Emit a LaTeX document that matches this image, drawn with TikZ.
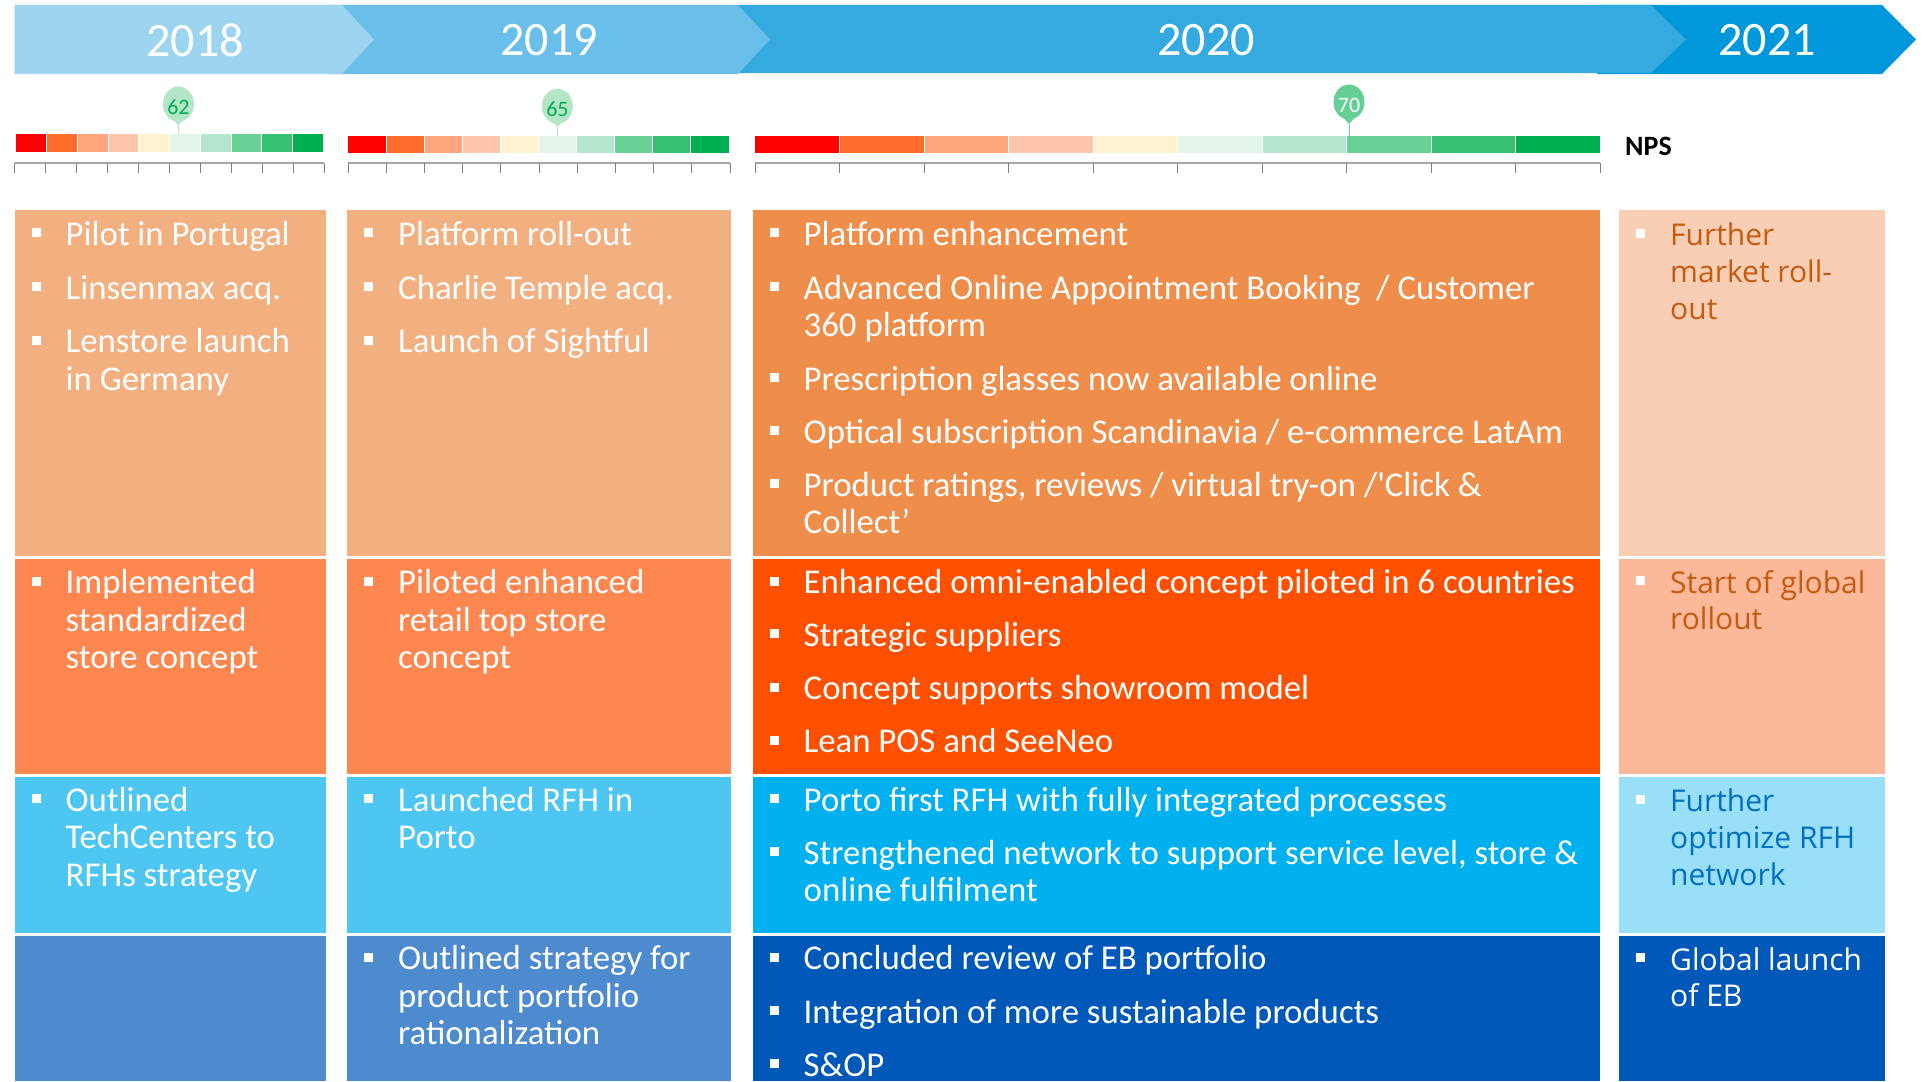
\documentclass[tikz,border=0pt]{standalone}
\usepackage{fontspec}
\setmainfont{Carlito}
\newfontfamily\segoe{Open Sans}
\usetikzlibrary{calc}

\definecolor{hA}{HTML}{9DD5F0}
\definecolor{hB}{HTML}{69BFE9}
\definecolor{hC}{HTML}{35AAE1}
\definecolor{hD}{HTML}{0098DA}
\definecolor{rOa}{HTML}{F2AF80}
\definecolor{rOc}{HTML}{EF8D4B}
\definecolor{rOd}{HTML}{F8CFB4}
\definecolor{rTa}{HTML}{FE874F}
\definecolor{rTc}{HTML}{FF5000}
\definecolor{rTd}{HTML}{FBB999}
\definecolor{rHa}{HTML}{4DC6F2}
\definecolor{rHc}{HTML}{00B0EF}
\definecolor{rHd}{HTML}{9ADFF8}
\definecolor{rFa}{HTML}{4D8ACE}
\definecolor{rFc}{HTML}{0058B8}
\definecolor{txo}{HTML}{C55A11}
\definecolor{txb}{HTML}{0070C0}
\definecolor{sA}{HTML}{FF0000}
\definecolor{sB}{HTML}{FF6D2C}
\definecolor{sC}{HTML}{FFA67F}
\definecolor{sD}{HTML}{FFC4AC}
\definecolor{sE}{HTML}{FFF2D0}
\definecolor{sF}{HTML}{E3F4E9}
\definecolor{sG}{HTML}{B3E6CA}
\definecolor{sH}{HTML}{67D196}
\definecolor{sI}{HTML}{36BF72}
\definecolor{sJ}{HTML}{00B050}
\definecolor{gA}{HTML}{B4E5C7}
\definecolor{gB}{HTML}{66CF95}
\definecolor{gT}{HTML}{00B050}
\definecolor{scal}{HTML}{A6A6A6}

\newcommand\npsbar[3]{%
  \foreach \col [count=\i from 0] in {sA,sB,sC,sD,sE,sF,sG,sH,sI,sJ} {
    \pgfmathsetmacro\xa{#1+\i*(#2-#1)/10}
    \pgfmathsetmacro\xb{#1+(\i+1)*(#2-#1)/10}
    \fill[\col] (\xa,#3) rectangle (\xb,#3+17.4);
  }
  \foreach \i in {1,...,9} {
    \pgfmathsetmacro\xb{#1+\i*(#2-#1)/10}
    \draw[white,line width=1] (\xb,#3) -- (\xb,#3+17.4);
  }
}
\newcommand\npsscale[3]{%
  \draw[scal,line width=2.2] (#1,#3) -- (#2,#3);
  \foreach \i in {0,...,10} {
    \pgfmathsetmacro\xt{#1+\i*(#2-#1)/10}
    \draw[gray,line width=1] (\xt,#3) -- (\xt,#3+10);
  }
}
% name, cx, cy, tip, bar top, fill, text colour, label
\newcommand\npsmark[8]{%
  \fill[#6] (#2,#3) ellipse [x radius=15.5, y radius=17.5];
  \fill[#6] ({#2-10},{#3+11}) -- ({#2+10},{#3+11}) -- (#2,#4) -- cycle;
  \draw[#6,line width=1] (#2,#4) -- (#2,#5);
  \node[mk,text=#7] (#1) at (#2,#3+3) {#8};
}
\newcommand\itm[5]{%
  \node[item,#4] (#1) at (#2,#3) {\parbox[t]{800pt}{\raggedright #5}};
  \fill[bul] ($(#1.base west)+(-34,-17)$) rectangle ++(9,9);
}

\begin{document}
\begin{tikzpicture}[x=1pt,y=-1pt,
  year/.style={text=white,inner sep=0pt,font=\fontsize{48}{52}\selectfont},
  mk/.style={inner sep=0pt,font=\fontsize{22}{24}\selectfont},
  item/.style={anchor=base west,inner sep=0pt,text=white,font=\fontsize{34.8}{37.5}\selectfont},
  sitem/.style={font=\segoe\fontsize{30}{36.8}\selectfont},
  bul/.style={white}]
\useasboundingbox (0,0) rectangle (1926,1081);
\fill[white] (0,0) rectangle (1926,1081);

% header arrows
\fill[hD] (1597,5) -- (1882,5) -- (1916,39.5) -- (1882,74) -- (1597,74) -- cycle;
\fill[hC] (735,5) -- (1651,5) -- (1686,39.5) -- (1651,73) -- (735,73) -- cycle;
\fill[hB] (329,5) -- (738,5) -- (770,39.5) -- (738,74) -- (329,74) -- cycle;
\fill[hA] (14.5,5) -- (342,5) -- (374,39.5) -- (342,74) -- (14.5,74) -- cycle;
\node[year] (y18) at (195,40.5) {2018};
\node[year] (y19) at (549,40.5) {2019};
\node[year] (y20) at (1206,40.5) {2020};
\node[year] (y21) at (1767,40.5) {2021};

% NPS bars
\npsbar{16}{323.3}{134.3}
\npsbar{348}{728.6}{136}
\npsbar{755}{1600}{136}
\npsscale{14.5}{324}{162.7}
\npsscale{348}{730}{162.7}
\npsscale{755}{1600}{162.7}
\npsmark{m62}{178.4}{104}{125}{134.3}{gA}{gT}{62}
\npsmark{m65}{557.4}{106.3}{126.7}{136}{gA}{gT}{65}
\npsmark{m70}{1349}{102}{124}{136}{gB}{white}{70}
\node[anchor=west,inner sep=0pt,font=\bfseries\fontsize{28}{30}\selectfont] (nps) at (1625,146.7) {NPS};

% boxes
\fill[rOa] (14.5,210) rectangle (326,555.5);
\fill[rOa] (347,210) rectangle (730.5,555.5);
\fill[rOc] (752.5,210) rectangle (1600,555.5);
\fill[rOd] (1619,210) rectangle (1885,555.5);
\fill[rTa] (14.5,559) rectangle (326,774);
\fill[rTa] (347,559) rectangle (730.5,774);
\fill[rTc] (752.5,559) rectangle (1600,774);
\fill[rTd] (1619,559) rectangle (1885,774);
\fill[rHa] (14.5,777.4) rectangle (326,932.7);
\fill[rHa] (347,777.4) rectangle (730.5,932.7);
\fill[rHc] (752.5,777.4) rectangle (1600,932.7);
\fill[rHd] (1619,777.4) rectangle (1885,932.7);
\fill[rFa] (14.5,936) rectangle (326,1081);
\fill[rFa] (347,936) rectangle (730.5,1081);
\fill[rFc] (752.5,936) rectangle (1600,1081);
\fill[rFc] (1619,936) rectangle (1885,1081);

% row 1
\itm{a1}{65.5}{245}{}{Pilot in Portugal}
\itm{a2}{65.5}{299}{}{Linsenmax acq.}
\itm{a3}{65.5}{352.7}{}{Lenstore launch\\in Germany}
\itm{b1}{398}{245}{}{Platform roll-out}
\itm{b2}{398}{299}{}{Charlie Temple acq.}
\itm{b3}{398}{352.7}{}{Launch of Sightful}
\itm{c1}{803.5}{245}{}{Platform enhancement}
\itm{c2}{803.5}{299}{}{Advanced Online Appointment Booking \ / Customer\\360 platform}
\itm{c3}{803.5}{390}{}{Prescription glasses now available online}
\itm{c4}{803.5}{443.3}{}{Optical subscription Scandinavia / e-commerce LatAm}
\itm{c5}{803.5}{496}{}{Product ratings, reviews / virtual try-on /\textquotesingle Click \&\\Collect’}
\itm{d1}{1670}{245.7}{sitem,text=txo}{Further\\market roll-\\out}
% row 2
\itm{a4}{65.5}{593.5}{}{Implemented\\standardized\\store concept}
\itm{b4}{398}{593.5}{}{Piloted enhanced\\retail top store\\concept}
\itm{c6}{803.5}{593.5}{}{Enhanced omni-enabled concept piloted in 6 countries}
\itm{c7}{803.5}{646.3}{}{Strategic suppliers}
\itm{c8}{803.5}{699.5}{}{Concept supports showroom model}
\itm{c9}{803.5}{752.5}{}{Lean POS and SeeNeo}
\itm{d2}{1670}{593}{sitem,text=txo}{Start of global\\rollout}
% row 3
\itm{a5}{65.5}{811}{}{Outlined\\TechCenters to\\RFHs strategy}
\itm{b5}{398}{811}{}{Launched RFH in\\Porto}
\itm{c10}{803.5}{811}{}{Porto first RFH with fully integrated processes}
\itm{c11}{803.5}{864.4}{}{Strengthened network to support service level, store \&\\online fulfilment}
\itm{d3}{1670}{811.7}{sitem,text=txb}{Further\\optimize RFH\\network}
% row 4
\itm{b6}{398}{969.6}{}{Outlined strategy for\\product portfolio\\rationalization}
\itm{c12}{803.5}{969.6}{}{Concluded review of EB portfolio}
\itm{c13}{803.5}{1023}{}{Integration of more sustainable products}
\itm{c14}{803.5}{1076}{}{S\&OP}
\itm{d4}{1670}{970}{sitem,text=white}{Global launch\\of EB}
\end{tikzpicture}
\end{document}
